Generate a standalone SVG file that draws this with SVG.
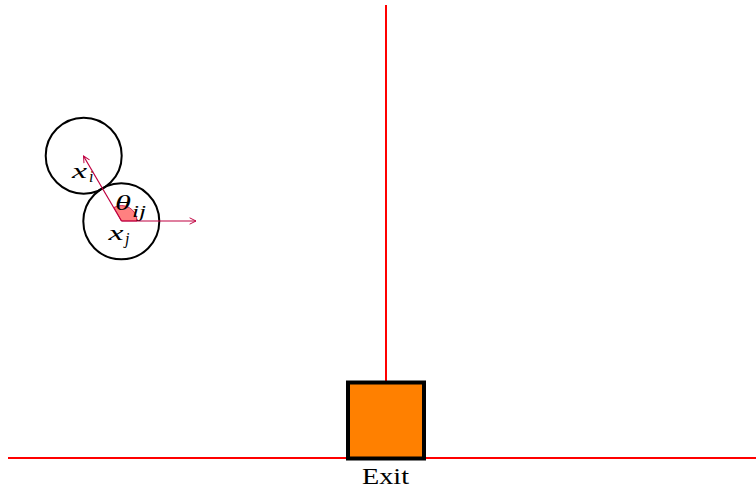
<svg xmlns="http://www.w3.org/2000/svg" width="756" height="492" viewBox="0 0 756 492">
<defs>
<style>
.wall{stroke:#FF0000;stroke-width:2;fill:none}
.agent{fill:none;stroke:#000;stroke-width:2}
.vec{stroke:#BF0040;stroke-width:1.2;fill:none}
.math{font-family:"Liberation Serif","DejaVu Serif",serif;font-style:italic;font-size:22px;fill:#000}
.sub{font-family:"Liberation Serif","DejaVu Serif",serif;font-style:italic;font-size:16px;fill:#000}
.lbl{font-family:"Liberation Serif","DejaVu Serif",serif;font-size:24px;fill:#000}
</style>
<marker id="arr" viewBox="0 0 10 10" refX="9" refY="5" markerWidth="8" markerHeight="8" markerUnits="userSpaceOnUse" orient="auto">
<path d="M1,1 L9,5 L1,9" fill="none" stroke="#BF0040" stroke-width="1.2"/>
</marker>
</defs>
<g id="walls">
<line class="wall" x1="386" y1="5" x2="386" y2="382"/>
<line class="wall" x1="8" y1="458" x2="756" y2="458"/>
</g>
<g id="exit">
<rect x="348" y="382.5" width="76" height="76" fill="#FF8000" stroke="#000" stroke-width="4"/>
<text class="lbl" x="362" y="484" textLength="47" lengthAdjust="spacingAndGlyphs">Exit</text>
</g>
<g id="agent-i">
<circle class="agent" cx="83.7" cy="155.7" r="38"/>
<text class="math" x="72" y="178" textLength="15" lengthAdjust="spacingAndGlyphs">x</text>
<text class="sub" x="89" y="182">i</text>
</g>
<g id="agent-j">
<circle class="agent" cx="121.3" cy="221.3" r="38"/>
<text class="math" x="108.5" y="240" textLength="15" lengthAdjust="spacingAndGlyphs">x</text>
<text class="sub" x="125" y="244">j</text>
</g>
<g id="angle">
<path d="M121.5,221 L137,221 A15.5,15.5 0 0 0 113.9,207.5 Z" fill="#FF8080" stroke="#BF0040" stroke-width="0.8"/>
<text class="math" x="115" y="210" textLength="16" lengthAdjust="spacingAndGlyphs">θ</text>
<text class="sub" x="132" y="217" textLength="14" lengthAdjust="spacingAndGlyphs">ij</text>
</g>
<g id="connectors">
<line class="vec" x1="121.5" y1="221" x2="196" y2="221" marker-end="url(#arr)"/>
<line class="vec" x1="121.5" y1="221" x2="83.5" y2="156" marker-end="url(#arr)"/>
</g>
</svg>
